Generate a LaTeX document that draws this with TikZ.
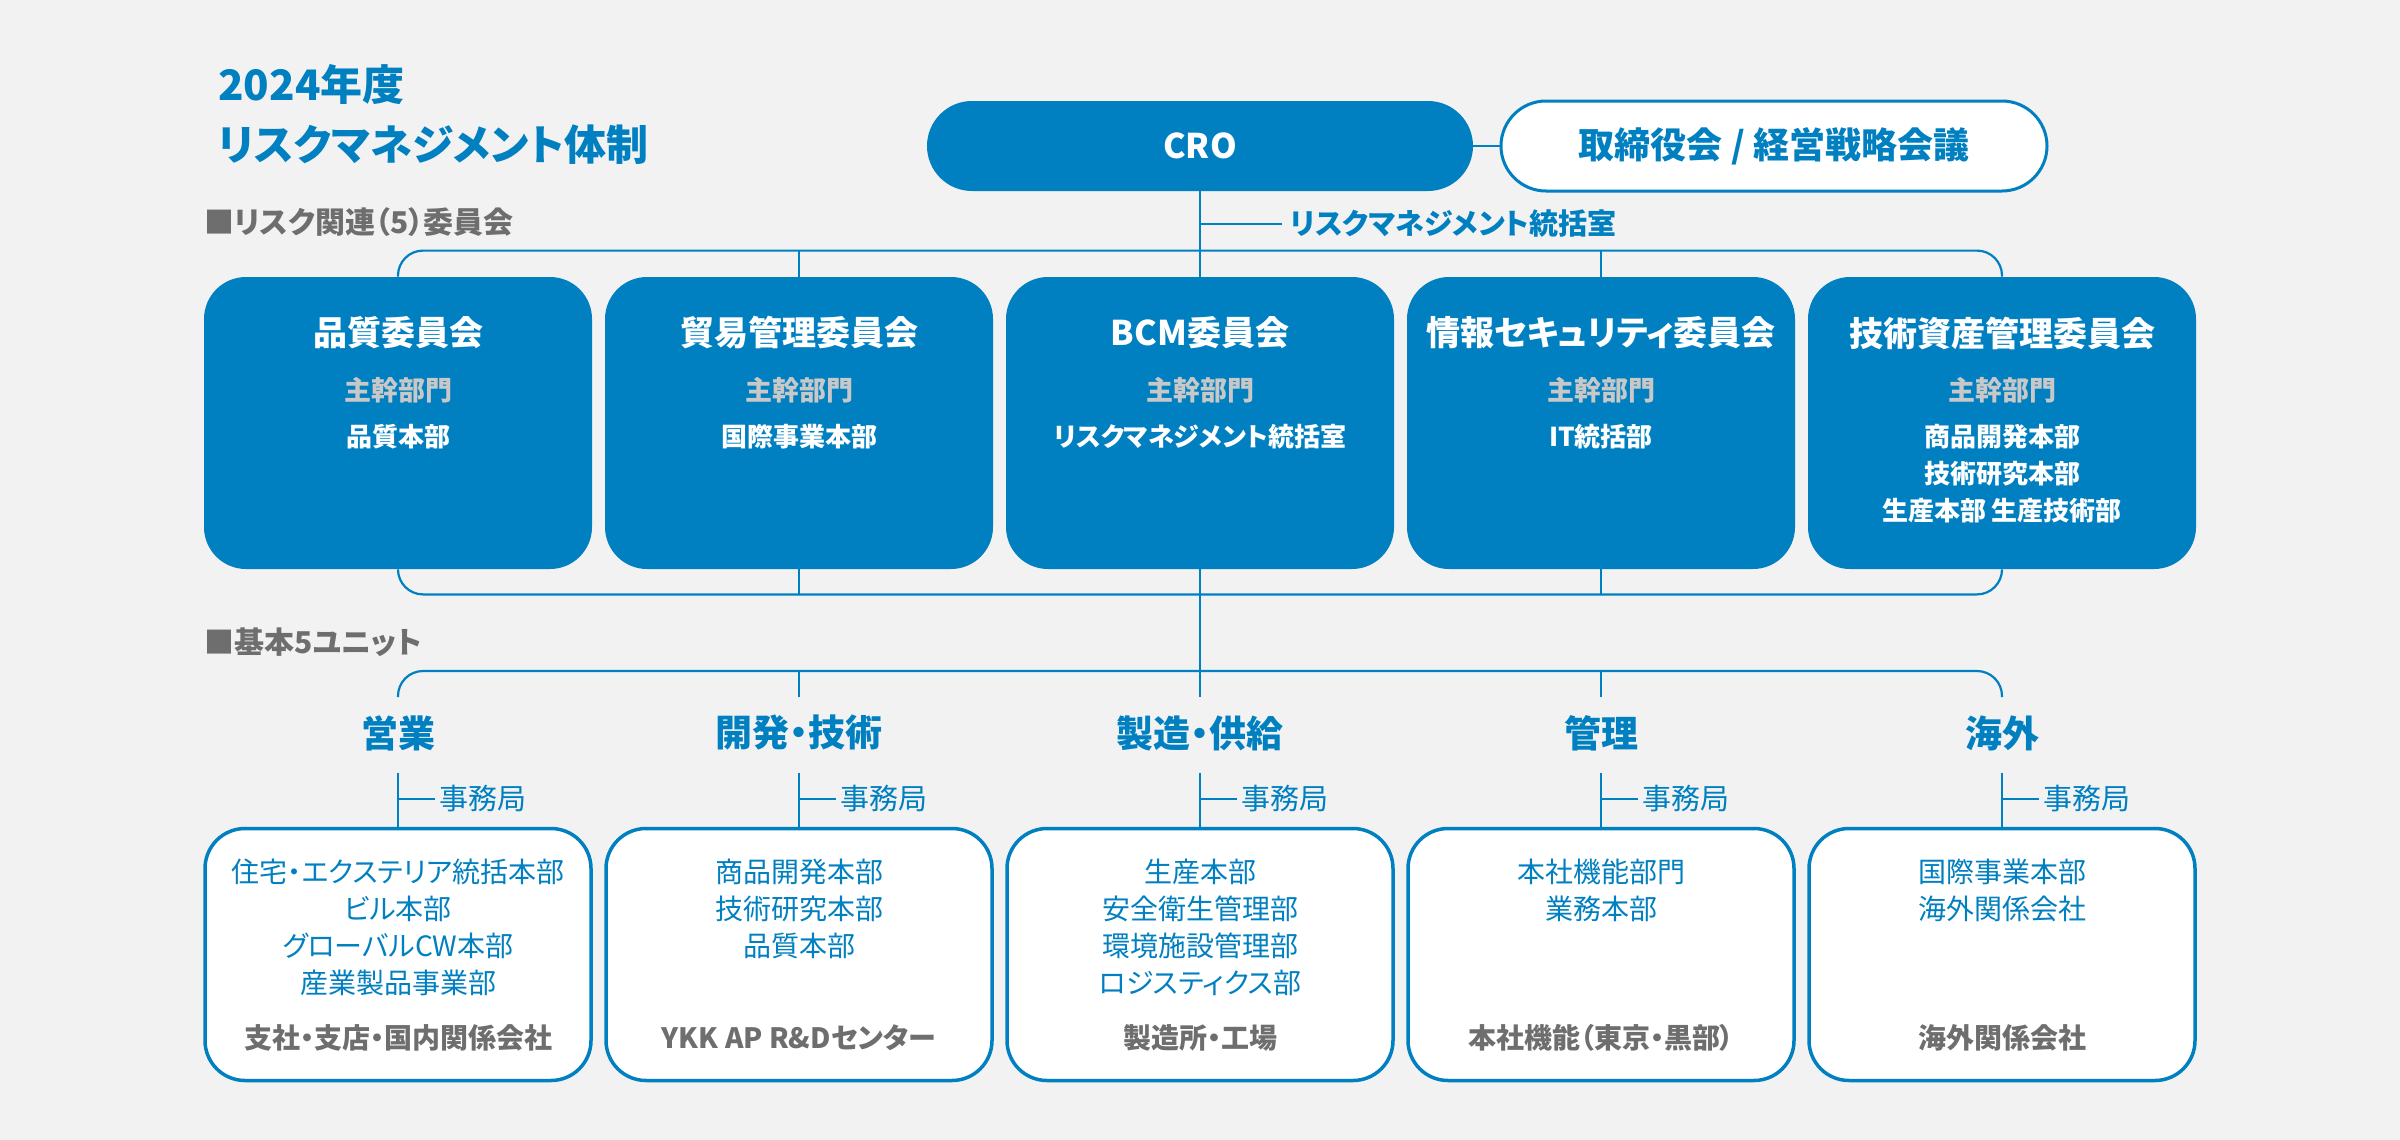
\documentclass[tikz,border=0pt]{standalone}
\usepackage{fontspec}
\setmainfont{Noto Sans CJK JP}[RawFeature=+palt]
\usetikzlibrary{positioning, calc}
\definecolor{rmblue}{HTML}{0080C0}
\definecolor{rmback}{HTML}{F2F2F2}
\definecolor{rmgray}{HTML}{6E6E6E}
\definecolor{rmlight}{HTML}{C8C8C8}

\begin{document}
\begin{tikzpicture}[x=0.5pt, y=-0.5pt,
	link/.style={draw=rmblue, line width=1pt},
	bus/.style={link, line width=1.1pt, rounded corners=12.5pt},
	combox/.style={rectangle, fill=rmblue, rounded corners=21pt, minimum width=194pt, minimum height=146pt},
	unitbox/.style={rectangle, draw=rmblue, line width=1.75pt, fill=white, rounded corners=20pt, minimum width=193pt, minimum height=126pt},
	pill/.style={rectangle, rounded corners=22.5pt, minimum width=273pt, minimum height=45pt},
	headline/.style={anchor=west, inner sep=0pt, text=rmblue, font=\fontsize{21}{25}\selectfont\bfseries},
	section/.style={anchor=west, inner sep=0pt, text=rmgray, font=\fontsize{15}{18}\selectfont\bfseries},
	comtitle/.style={text=white, font=\fontsize{17}{20}\selectfont\bfseries},
	comsub/.style={text=rmlight, font=\fontsize{13.5}{16}\selectfont\bfseries},
	comdept/.style={text=white, font=\fontsize{13}{16}\selectfont\bfseries},
	unitname/.style={text=rmblue, font=\fontsize{18.5}{22}\selectfont\bfseries},
	jimu/.style={anchor=west, inner sep=2pt, text=rmblue, font=\fontsize{14.5}{17}\selectfont},
	unitdept/.style={text=rmblue, font=\fontsize{14}{17}\selectfont},
	unitsite/.style={text=rmgray, font=\fontsize{14}{17}\selectfont\bfseries}
]
\fill[rmback] (0,0) rectangle (2400,1140);
\useasboundingbox (0,0) rectangle (2400,1140);

\node[headline] (title 1) at (218,85) {2024年度};
\node[headline] (title 2) at (218,145) {リスクマネジメント体制};
\node[section] (sec com) at (204,222) {■リスク関連（5）委員会};
\node[section] (sec unit) at (204,642) {■基本5ユニット};

\node[pill, fill=rmblue, text=white, font=\fontsize{17}{20}\selectfont\bfseries] (cro) at (1200,146) {CRO};
\node[pill, draw=rmblue, line width=1.5pt, fill=white, text=rmblue, font=\fontsize{18}{21}\selectfont\bfseries] (board) at (1774,146) {取締役会 / 経営戦略会議};
\draw[link] (cro) -- (board);

\foreach \i/\name/\depts in {1/品質委員会/{品質本部}, 2/貿易管理委員会/{国際事業本部}, 3/BCM委員会/{リスクマネジメント統括室}, 4/情報セキュリティ委員会/{IT統括部}, 5/技術資産管理委員会/{商品開発本部,技術研究本部,生産本部 生産技術部}} {
	\edef\xx{\the\numexpr 398 + 401*(\i-1)\relax}
	\node[combox] (com \i) at (\xx, 423) {};
	\node[comtitle] at (\xx, 333) {\name};
	\node[comsub] at (\xx, 390) {主幹部門};
	\foreach \d [count=\k] in \depts
		\node[comdept] at (\xx, {437+37*(\k-1)}) {\d};
}

\foreach \i/\name/\depts/\site in {1/営業/{住宅・エクステリア統括本部,ビル本部,グローバルCW本部,産業製品事業部}/支社・支店・国内関係会社, 2/開発・技術/{商品開発本部,技術研究本部,品質本部}/YKK AP R\&Dセンター, 3/製造・供給/{生産本部,安全衛生管理部,環境施設管理部,ロジスティクス部}/製造所・工場, 4/管理/{本社機能部門,業務本部}/本社機能（東京・黒部）, 5/海外/{国際事業本部,海外関係会社}/海外関係会社} {
	\edef\xx{\the\numexpr 398 + 401*(\i-1)\relax}
	\coordinate (drop \i) at (\xx, 697);
	\node[unitname] (unit \i) at (\xx, 733) {\name};
	\coordinate (office \i) at (\xx, 773);
	\node[unitbox] (ubox \i) at (\xx, 954.5) {};
	\draw[link] (office \i) -- (ubox \i.north);
	\node[jimu] (jimu \i) at (\xx+37, 799) {事務局};
	\draw[link] (jimu \i.west) -- (jimu \i.west -| office \i);
	\foreach \d [count=\k] in \depts
		\node[unitdept] at (\xx, {872+37*(\k-1)}) {\d};
	\node[unitsite] at (\xx, 1038) {\site};
}

\draw[link] (cro) -- (com 3);
\node[anchor=west, inner sep=4pt, text=rmblue, font=\fontsize{14.5}{17}\selectfont\bfseries] (rm office) at (1282,224) {リスクマネジメント統括室};
\draw[link] (rm office.west) -- (rm office.west -| cro.south);
\draw[bus] (com 1.north) -- ++(0,-26) -| (com 5.north);
\foreach \i in {2, 4}
	\draw[link] (com \i.north) -- ++(0,-26);
\draw[bus] (com 1.south) -- ++(0,25) -| (com 5.south);
\foreach \i in {2, 4}
	\draw[link] (com \i.south) -- ++(0,25);
\draw[link] (com 3) -- (drop 3);
\draw[bus] (drop 1) -- ++(0,-26) -| (drop 5);
\foreach \i in {2, 4}
	\draw[link] (drop \i) -- ++(0,-26);
\end{tikzpicture}
\end{document}
